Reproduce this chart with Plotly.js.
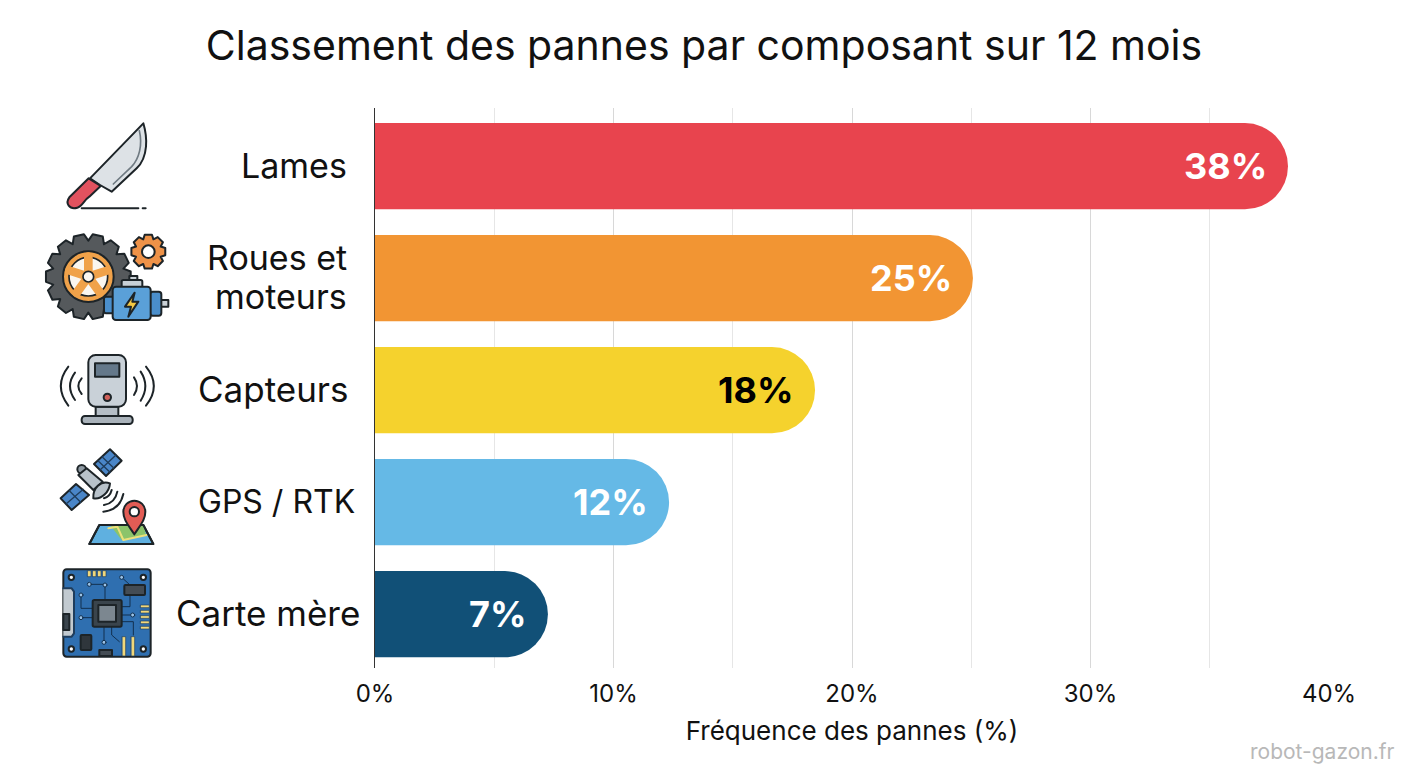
<!DOCTYPE html>
<html><head><meta charset="utf-8">
<script src="https://cdn.plot.ly/plotly-3.0.1.min.js"></script>
<style>html,body{margin:0;padding:0;background:#fff}#c{width:1408px;height:768px}</style>
</head><body><div id="c"></div>
<script>
const categories = ["Lames","Roues et<br>moteurs","Capteurs","GPS / RTK","Carte mère"];
const barValues = [38.28,25.07,18.45,12.33,7.25];
const valueLabels = ["38%","25%","18%","12%","7%"];
const barColors = ["#E8444E","#F29533","#F5D22D","#65B9E6","#115077"];
const labelColors = ["#ffffff","#ffffff","#000000","#ffffff","#ffffff"];
const categoryRightEdges = [349,349,351,357,362];
const categorySizes = [34,34,35,32,35];
const xTickValues = [0,10,20,30,40];
const xTickLabels = ["0%","10%","20%","30%","40%"];

const FONT = "Inter, 'Open Sans', sans-serif";
const INK = "#1d2428";
const L = 375, R = 1329, T = 108, B = 668;

function gear(cx,cy,ro,ri,n){
  let d = "";
  for(let i=0;i<n;i++){
    const a = 2*Math.PI*i/n, s = 2*Math.PI/n;
    const pts = [[ri,-0.5],[ro,-0.27],[ro,0.27],[ri,0.5]];
    pts.forEach((p,j)=>{
      const t = a + p[1]*s;
      d += (i===0&&j===0?"M":"L")+(cx+p[0]*Math.cos(t)).toFixed(1)+" "+(cy+p[0]*Math.sin(t)).toFixed(1)+" ";
    });
  }
  return d+"Z";
}
function spokes(cx,cy,r){
  let o = "";
  for(let k=0;k<5;k++){
    const t = (-90+72*k)*Math.PI/180;
    const x = (cx+r*Math.cos(t)).toFixed(1), y = (cy+r*Math.sin(t)).toFixed(1);
    o += `<line x1="${cx}" y1="${cy}" x2="${x}" y2="${y}" stroke="#F0A24A" stroke-width="26"/>`;
  }
  return o;
}
const iconsTop = `<svg xmlns="http://www.w3.org/2000/svg" width="900" height="1320" viewBox="0 0 450 660">
<g stroke="${INK}" stroke-width="6" stroke-linejoin="round" stroke-linecap="round" fill="none">
<path d="M340 40 C352 80 356 140 320 175 L245 245 L210 225 L180 205 Z" fill="#DDE2E6"/>
<path d="M328 62 C338 105 328 145 305 170 L250 222" stroke="#6F7A82" stroke-width="5"/>
<path d="M176 205 L118 262 C105 280 118 300 142 293 C158 289 162 270 178 260 L212 228 Z" fill="#E2525F"/>
<path d="M155 295 L325 295 M338 295 L347 295"/>
<path d="${gear(175,500,128,108,14)}" fill="#55595C"/>
<circle cx="175" cy="500" r="76" fill="#F0A24A"/>
<circle cx="175" cy="500" r="58" fill="#FAF6F0" stroke-width="5"/>
${spokes(175,500,60)}
<circle cx="175" cy="500" r="16" fill="#FAF6F0" stroke-width="5"/>
<path d="${gear(355,425,52,40,8)}" fill="#EE9248"/>
<circle cx="355" cy="425" r="19" fill="#fff"/>
<rect x="298" y="498" width="24" height="14" fill="#C8D0D6"/>
<rect x="275" y="510" width="62" height="22" rx="5" fill="#C8D0D6"/>
<rect x="392" y="570" width="23" height="20" fill="#C8D0D6"/>
<rect x="222" y="560" width="30" height="50" rx="6" fill="#4A8ECB"/>
<rect x="360" y="545" width="34" height="72" rx="8" fill="#4A8ECB"/>
<rect x="248" y="530" width="114" height="100" rx="10" fill="#5AA0D8"/>
<path d="M314 548 L285 590 L303 590 L295 620 L325 575 L307 575 Z" fill="#F5C842"/>
</g></svg>`;

const iconsBottom = `<svg xmlns="http://www.w3.org/2000/svg" width="900" height="1980" viewBox="0 0 450 990">
<g stroke="${INK}" stroke-width="6" stroke-linejoin="round" stroke-linecap="round" fill="none">
<rect x="197" y="200" width="68" height="30" fill="#B5BEC6"/>
<rect x="155" y="228" width="153" height="24" rx="10" fill="#AAB3BB"/>
<rect x="175" y="45" width="113" height="155" rx="22" fill="#C9D1D8"/>
<rect x="195" y="70" width="73" height="40" fill="#64788A"/>
<circle cx="232" cy="172" r="11" fill="#D0605A"/>
<path d="M155 115 Q135 138 155 162 M135 98 Q105 138 135 180 M115 80 Q70 138 115 197"/>
<path d="M312 112 Q330 138 312 165 M332 95 Q360 138 332 182 M348 80 Q395 138 348 197"/>
<path d="M240 328 L275 362 L228 408 L192 372 Z" fill="#4A86C8"/>
<path d="M216 350 L252 385 M204 362 L240 397 M258 345 L210 390" stroke="#1F3D5C" stroke-width="4"/>
<path d="M138 432 L177 465 L125 510 L92 475 Z" fill="#4A86C8"/>
<path d="M118 452 L152 487 M160 448 L108 492" stroke="#1F3D5C" stroke-width="4"/>
<circle cx="155" cy="388" r="13" fill="#8F9AA3"/>
<path d="M145 405 L170 385 L218 425 L190 450 Z" fill="#B8C2CA"/>
<path d="M190 475 C188 445 212 420 240 430 C238 455 215 480 190 475 Z" fill="#B8C2CA"/>
<path d="M222 475 Q240 470 245 450 M222 495 Q255 490 262 455 M220 515 Q270 510 280 462"/>
<path d="M178 612 L208 555 L340 555 L370 612 Z" fill="#5FB0E0"/>
<path d="M240 555 L275 600 L348 585 L340 555 Z" fill="#8CC46A" stroke="none"/>
<path d="M235 565 L262 560 L280 600 L350 585" stroke="#EDE07A" stroke-width="6"/>
<path d="M178 612 L208 555 L340 555 L370 612 Z"/>
<path d="M313 583 C295 555 280 540 280 515 A33 33 0 0 1 346 515 C346 540 331 555 313 583 Z" fill="#E25C55"/>
<circle cx="313" cy="515" r="14" fill="#fff"/>
<rect x="100" y="688" width="262" height="262" rx="10" fill="#2F6FB0"/>
<path d="M100 745 L125 745 L132 755 L132 880 L125 890 L100 890" fill="#C2CAD0" stroke="#1F3D5C"/>
<rect x="100" y="822" width="18" height="48" fill="#3A444C"/>
<g fill="#F0D77A" stroke="#1F3D5C" stroke-width="2">
<rect x="173" y="692" width="10" height="18"/><rect x="188" y="692" width="10" height="18"/><rect x="203" y="692" width="10" height="18"/><rect x="218" y="692" width="10" height="18"/>
<rect x="332" y="795" width="26" height="8"/><rect x="332" y="811" width="26" height="8"/><rect x="332" y="827" width="26" height="8"/><rect x="332" y="843" width="26" height="8"/><rect x="332" y="859" width="26" height="8"/>
<rect x="277" y="890" width="10" height="58"/><rect x="304" y="890" width="10" height="58"/>
</g>
<g stroke="#12304F" stroke-width="3">
<path d="M178 733 L225 733 L225 780 M153 765 L153 805 L188 805 M153 833 L188 833 M222 860 L222 905 M245 860 L245 885 L268 905 M275 800 L300 800 L300 735 L275 712 M275 825 L308 825 M275 845 L310 845 L310 885"/>
<circle cx="178" cy="733" r="6" fill="#9CC3E6"/><circle cx="225" cy="735" r="6" fill="#9CC3E6"/><circle cx="153" cy="765" r="6" fill="#9CC3E6"/><circle cx="153" cy="833" r="6" fill="#9CC3E6"/><circle cx="222" cy="907" r="6" fill="#9CC3E6"/><circle cx="275" cy="712" r="6" fill="#9CC3E6"/><circle cx="308" cy="825" r="6" fill="#9CC3E6"/>
</g>
<rect x="188" y="780" width="87" height="80" rx="5" fill="#3A444C"/>
<rect x="205" y="795" width="53" height="50" fill="#7C8790"/>
<rect x="283" y="735" width="62" height="30" rx="3" fill="#444C54"/>
<rect x="152" y="885" width="32" height="45" rx="3" fill="#2F363C"/>
<rect x="208" y="930" width="38" height="18" fill="#444C54"/>
<g fill="#fff"><circle cx="124" cy="712" r="8"/><circle cx="340" cy="712" r="8"/><circle cx="124" cy="927" r="8"/><circle cx="340" cy="927" r="8"/></g>
</g></svg>`;

const uri = s => "data:image/svg+xml;charset=utf-8," + encodeURIComponent(s);
const pw = R-L, ph = B-T;
function iconImage(src,x,y,w,h){
  return {source:uri(src),xref:"paper",yref:"paper",x:(x-L)/pw,y:(B-y)/ph,sizex:w/pw,sizey:h/ph,
    xanchor:"left",yanchor:"top",sizing:"stretch",layer:"above"};
}

const catAnn = categories.flatMap((c,i)=>{
  const lines = c.split("<br>");
  return lines.map((line,j)=>({
    xref:"paper",yref:"y",x:(categoryRightEdges[i]-L)/pw,y:i,text:line,showarrow:false,
    xanchor:"right",yanchor:"middle",
    yshift:1-(j-(lines.length-1)/2)*39,
    font:{family:FONT,size:categorySizes[i],color:"#111"}
  }));
});
const valAnn = valueLabels.map((t,i)=>({
  xref:"x",yref:"y",x:barValues[i],y:i,text:"<b>"+t+"</b>",showarrow:false,
  xanchor:"right",yanchor:"middle",xshift:-19,
  font:{family:FONT,size:36,color:labelColors[i]}
}));

Plotly.newPlot("c",[{
  type:"bar",orientation:"h",
  x:barValues,y:categories.map((_,i)=>i),
  width:0.77,
  marker:{color:barColors,cornerradius:43,line:{width:0}},
  hoverinfo:"skip"
}],{
  width:1408,height:768,
  paper_bgcolor:"#fff",plot_bgcolor:"#fff",
  margin:{l:L,r:1408-R,t:T,b:768-B,pad:0},
  showlegend:false,
  font:{family:FONT,color:"#111"},
  title:{text:"Classement des pannes par composant sur 12 mois",
    font:{family:FONT,size:41,color:"#111"},xref:"container",x:0.5,xanchor:"center",yref:"container",y:0.94,yanchor:"middle"},
  xaxis:{range:[0,40],tickmode:"array",tickvals:xTickValues,ticktext:xTickLabels,
    tickfont:{family:FONT,size:24,color:"#111"},ticks:"",ticklabelstandoff:9,
    showgrid:true,gridcolor:"#D8D8D8",gridwidth:1,zeroline:false,showline:false,
    minor:{dtick:5,tick0:0,showgrid:true,gridcolor:"#E6E6E6",gridwidth:1,ticks:""},
    title:{text:"Fréquence des pannes (%)",font:{family:FONT,size:26,color:"#111"},standoff:14}},
  yaxis:{range:[4.48,-0.52],tickmode:"array",tickvals:[0,1,2,3,4],showticklabels:false,ticks:"",
    showgrid:false,zeroline:false,showline:true,linecolor:"#333",linewidth:1},
  images:[iconImage(iconsTop,30,110,150,220),iconImage(iconsBottom,30,340,150,330)],
  annotations:catAnn.concat(valAnn,[{
    xref:"paper",yref:"paper",x:(1397-L)/pw,y:(B-751)/ph,text:"robot-gazon.fr",showarrow:false,
    xanchor:"right",yanchor:"middle",font:{family:FONT,size:21,color:"#B8B8B8"}
  }])
},{displayModeBar:false,staticPlot:true});
</script></body></html>
